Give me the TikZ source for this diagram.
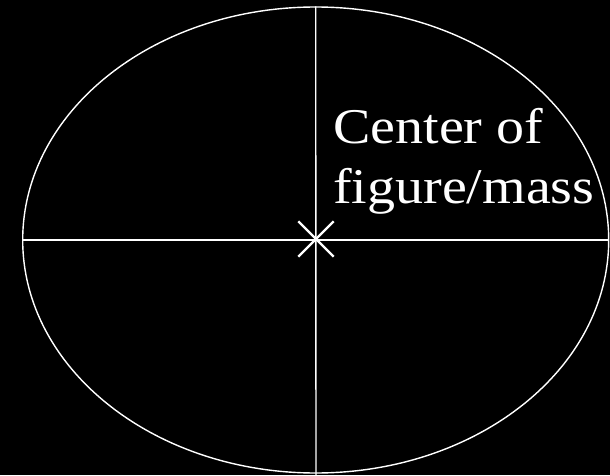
\documentclass[tikz,border=0pt]{standalone}
\usepackage{fontspec}
\setmainfont{Liberation Serif}
\usetikzlibrary{shapes.geometric,shapes.misc}
\begin{document}
\begin{tikzpicture}[x=1pt,y=1pt,
  wline/.style={draw=white,line width=1.4pt},
  lbl/.style={text=white,font=\fontsize{50}{60}\selectfont,inner sep=0pt,anchor=base west,xscale=1.12}]
\fill[black] (0,0) rectangle (610,475);
\useasboundingbox (0,0) rectangle (610,475);
\node[wline,ellipse,minimum width=586pt,minimum height=466pt,inner sep=0pt] (ell) at (315.7,235) {};
\coordinate (bot) at (316,0);
\draw[wline] (ell.west) -- (ell.east);
\draw[wline] (ell.north) -- (bot);
\node[wline,cross out,minimum size=33pt,inner sep=0pt,line width=2.4pt] (cm) at (316,236) {};
\node[lbl] (t1) at (333,332) {Center of};
\node[lbl] (t2) at (333,272) {figure/mass};
\end{tikzpicture}
\end{document}
